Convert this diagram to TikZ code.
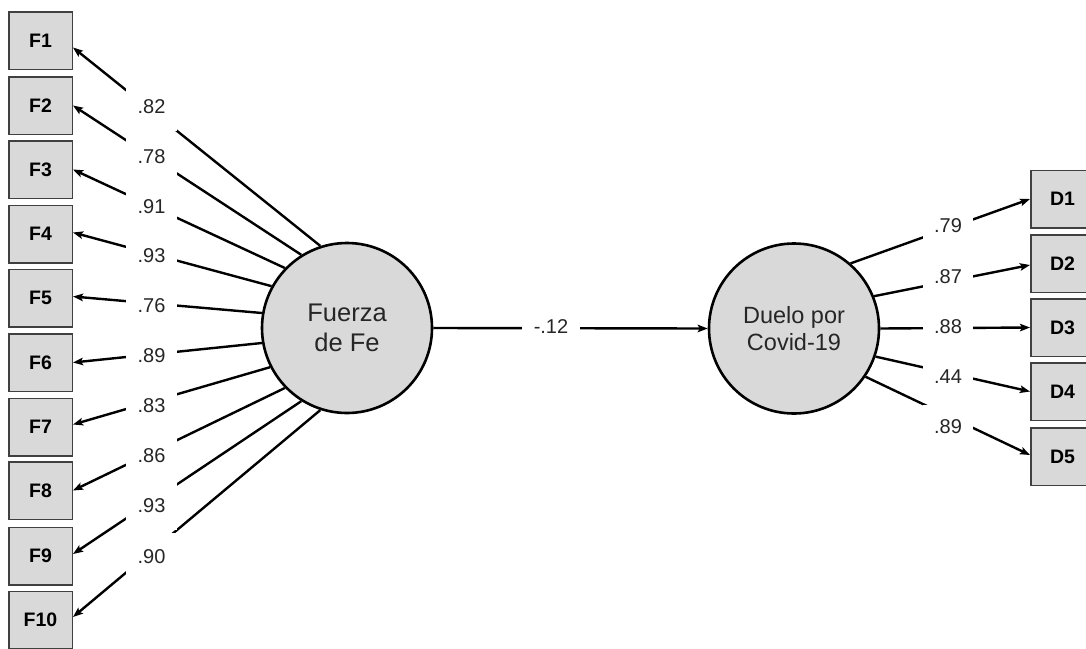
\documentclass[tikz,border=0pt]{standalone}
\usepackage{fontspec}
\setmainfont{Liberation Sans}
\usetikzlibrary{arrows.meta}
\definecolor{fillgray}{HTML}{D9D9D9}
\definecolor{boxgray}{HTML}{404040}
\definecolor{textdark}{HTML}{262626}
\begin{document}
\begin{tikzpicture}[x=1pt,y=-1pt,
  obs/.style={draw=boxgray, fill=fillgray, line width=1.5pt, minimum width=63.5pt, minimum height=57.5pt, inner sep=0pt, font=\fontsize{19.5}{20}\selectfont\bfseries},
  lat/.style={circle, draw=black, fill=fillgray, line width=2.6pt, minimum size=170pt, inner sep=0pt, align=center, text=textdark},
  ln/.style={line width=2.4pt, -{Stealth[length=10pt,width=7.5pt,inset=2pt]}},
  lblL/.style={fill=white, minimum width=51pt, minimum height=48pt, inner sep=0pt, font=\fontsize{20}{22}\selectfont, text=textdark},
  lblR/.style={fill=white, minimum width=50pt, minimum height=44pt, inner sep=0pt, font=\fontsize{20}{22}\selectfont, text=textdark},
  lblM/.style={fill=white, minimum width=58pt, minimum height=30pt, inner sep=0pt, font=\fontsize{20}{22}\selectfont, text=textdark},
]
\useasboundingbox (0,0) rectangle (1086,648);

% latent variables
\node[lat, font=\fontsize{25.5}{30}\selectfont] (fe) at (347,328) {Fuerza\\de Fe};
\node[lat, font=\fontsize{23.5}{27.5}\selectfont] (du) at (794,328.5) {Duelo por\\Covid-19};

% observed F
\node[obs] (F1) at (40.5,40.5) {F1};
\node[obs] (F2) at (40.5,105.5) {F2};
\node[obs] (F3) at (40.5,169.5) {F3};
\node[obs] (F4) at (40.5,234) {F4};
\node[obs] (F5) at (40.5,298) {F5};
\node[obs] (F6) at (40.5,362.5) {F6};
\node[obs] (F7) at (40.5,427) {F7};
\node[obs] (F8) at (40.5,490.5) {F8};
\node[obs] (F9) at (40.5,556) {F9};
\node[obs] (F10) at (40.5,620) {F10};

% observed D
\node[obs] (D1) at (1062.5,199) {D1};
\node[obs] (D2) at (1062.5,263.5) {D2};
\node[obs] (D3) at (1062.5,327.5) {D3};
\node[obs] (D4) at (1062.5,391.5) {D4};
\node[obs] (D5) at (1062.5,456.5) {D5};

% connectors
\draw[ln] (fe.108) -- ([yshift=-7pt]F1.east);
\draw[ln] (fe.122) -- (F2.east);
\draw[ln] (fe.136) -- (F3.east);
\draw[ln] (fe.151) -- ([yshift=1.5pt]F4.east);
\draw[ln] (fe.170) -- ([yshift=1.5pt]F5.east);
\draw[ln] (fe.190) -- (F6.east);
\draw[ln] (fe.207) -- ([yshift=2.5pt]F7.east);
\draw[ln] (fe.224) -- (F8.east);
\draw[ln] (fe.238) -- ([yshift=2pt]F9.east);
\draw[ln] (fe.252) -- ([yshift=3pt]F10.east);

\draw[ln] (fe.east) -- (du.west);

\draw[ln] (du.49) -- (D1.west);
\draw[ln] (du.22) -- ([yshift=-1.5pt]D2.west);
\draw[ln] (du.east) -- (D3.west);
\draw[ln] (du.-19) -- (D4.west);
\draw[ln] (du.-34) -- ([yshift=1.5pt]D5.west);

% labels
\node[lblL] (l1) at (151.5,107) {.82};
\node[lblL] (l2) at (151.5,157) {.78};
\node[lblL] (l3) at (151.5,207) {.91};
\node[lblL] (l4) at (151.5,256) {.93};
\node[lblL] (l5) at (151.5,306) {.76};
\node[lblL] (l6) at (151.5,356) {.89};
\node[lblL] (l7) at (151.5,406) {.83};
\node[lblL] (l8) at (151.5,456) {.86};
\node[lblL] (l9) at (151.5,506) {.93};
\node[lblL] (l10) at (151.5,557) {.90};

\node[lblM] (lm) at (551,327) {-.12};

\node[lblR] (r1) at (948,226) {.79};
\node[lblR] (r2) at (948,277) {.87};
\node[lblR] (r3) at (948,327) {.88};
\node[lblR] (r4) at (948,377) {.44};
\node[lblR] (r5) at (948,427) {.89};
\end{tikzpicture}
\end{document}
